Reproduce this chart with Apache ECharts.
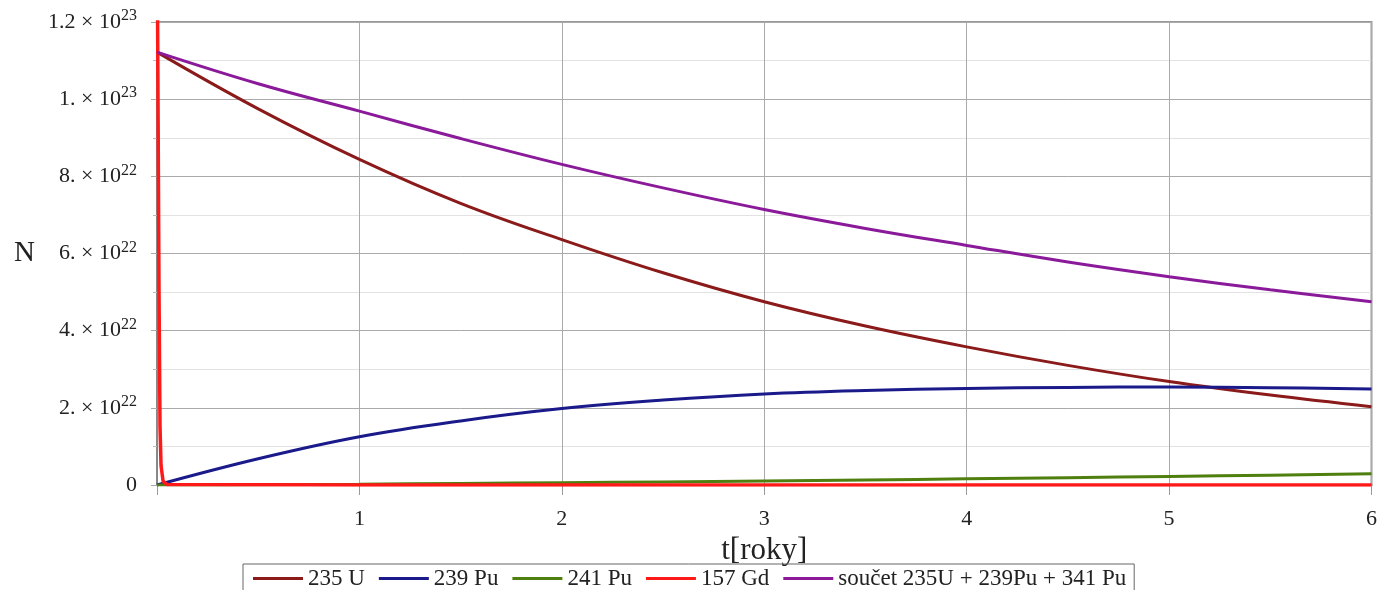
<!DOCTYPE html>
<html>
<head>
<meta charset="utf-8">
<script src="https://cdn.jsdelivr.net/npm/echarts@6/dist/echarts.min.js"></script>
<style>
  html, body { margin: 0; padding: 0; background: #fff; }
  #chart { width: 1380px; height: 590px; }
</style>
</head>
<body>
<div id="chart"></div>
<script>
// t [roky]
const tYears = [0, 0.5, 1, 1.5, 2, 2.5, 3, 3.5, 4, 4.5, 5, 5.5, 6];
const u235 = [1.122e23, 9.75e22, 8.44e22, 7.3e22, 6.36e22, 5.5e22, 4.75e22, 4.12e22, 3.58e22, 3.1e22, 2.68e22, 2.33e22, 2.03e22];
const pu239 = [0, 6.8e21, 1.25e22, 1.66e22, 1.98e22, 2.2e22, 2.36e22, 2.45e22, 2.5e22, 2.53e22, 2.54e22, 2.52e22, 2.49e22];
const pu241 = [0, 5e19, 2e20, 4e20, 6e20, 8e20, 1.05e21, 1.3e21, 1.6e21, 1.9e21, 2.2e21, 2.55e21, 2.9e21];
const soucet = [1.122e23, 1.04e23, 9.69e22, 8.98e22, 8.31e22, 7.7e22, 7.14e22, 6.65e22, 6.21e22, 5.78e22, 5.4e22, 5.06e22, 4.75e22];
// Gd decays almost instantly
const gdT = [0, 0.005, 0.01, 0.015, 0.02, 0.03, 0.05, 1, 2, 3, 4, 5, 6];
const gd157 = [1.5e23, 1.0e23, 5e22, 1.5e22, 5e21, 1e21, 1e20, 0, 0, 0, 0, 0, 0];

const names = ["235 U", "239 Pu", "241 Pu", "157 Gd", "součet 235U + 239Pu + 341 Pu"];
const colors = ["#8b1a1a", "#1a1a8b", "#4f7f0f", "#ff1a1a", "#8b1a9b"];

const FONT = "Liberation Serif";

function pairs(xs, ys) {
  return xs.map((x, i) => [x, ys[i]]);
}

function yLabel(v) {
  if (v === 0) return "0";
  const exp = Math.floor(Math.log10(v) + 1e-9);
  const m = Math.round((v / Math.pow(10, exp)) * 10) / 10;
  const ms = Number.isInteger(m) ? m + "." : String(m);
  return ms + " × 10{sup|" + exp + "}";
}

const chart = echarts.init(document.getElementById("chart"));

function lineSeries(name, data, color, smooth, width) {
  return {
    name: name,
    type: "line",
    data: data,
    smooth: smooth,
    showSymbol: false,
    clip: true,
    lineStyle: { color: color, width: width },
    itemStyle: { color: color },
  };
}

chart.setOption({
  animation: false,
  backgroundColor: "#fff",
  grid: {
    left: 157,
    right: 6,
    top: 22,
    bottom: 105,
    show: true,
    borderColor: "#999",
    borderWidth: 2,
  },
  legend: {
    data: names,
    left: 243,
    top: 564,
    padding: [3, 8, 12, 10],
    borderColor: "#666",
    borderWidth: 1,
    itemGap: 14,
    itemWidth: 50,
    itemHeight: 3,
    icon: "rect",
    textStyle: { fontFamily: FONT, fontSize: 23, color: "#222" },
  },
  xAxis: {
    type: "value",
    min: 0,
    max: 6,
    interval: 1,
    name: "t[roky]",
    nameLocation: "middle",
    nameGap: 39,
    nameTextStyle: { fontFamily: FONT, fontSize: 31, color: "#222" },
    axisLine: { show: true, lineStyle: { color: "#888", width: 2 } },
    axisTick: { show: true, length: 10, lineStyle: { color: "#999" } },
    axisLabel: {
      margin: 23,
      fontFamily: FONT,
      fontSize: 22,
      color: "#222",
      formatter: (v) => (v === 0 ? "" : String(v)),
    },
    splitLine: { show: true, lineStyle: { color: "#aaa", width: 1 } },
  },
  yAxis: {
    type: "value",
    min: 0,
    max: 1.2e23,
    interval: 2e22,
    name: "N",
    nameLocation: "middle",
    nameRotate: 0,
    nameGap: 122,
    nameTextStyle: { fontFamily: FONT, fontSize: 29, color: "#222" },
    axisLine: { show: true, lineStyle: { color: "#888", width: 2 } },
    axisTick: { show: true, length: 6, lineStyle: { color: "#aaa" } },
    minorTick: { show: true, splitNumber: 2, length: 4, lineStyle: { color: "#bbb" } },
    minorSplitLine: { show: true, lineStyle: { color: "#e2e2e2", width: 1 } },
    splitLine: { show: true, lineStyle: { color: "#aaa", width: 1 } },
    axisLabel: {
      margin: 20,
      fontFamily: FONT,
      fontSize: 22,
      color: "#222",
      formatter: yLabel,
      rich: {
        sup: { fontFamily: FONT, fontSize: 16, verticalAlign: "top", padding: [0, 0, 12, 0], color: "#222" },
      },
    },
  },
  series: [
    lineSeries(names[0], pairs(tYears, u235), colors[0], 0.4, 3),
    lineSeries(names[1], pairs(tYears, pu239), colors[1], 0.4, 3),
    lineSeries(names[2], pairs(tYears, pu241), colors[2], 0.4, 3),
    lineSeries(names[3], pairs(gdT, gd157), colors[3], false, 3.5),
    lineSeries(names[4], pairs(tYears, soucet), colors[4], 0.4, 3),
  ],
});
</script>
</body>
</html>
